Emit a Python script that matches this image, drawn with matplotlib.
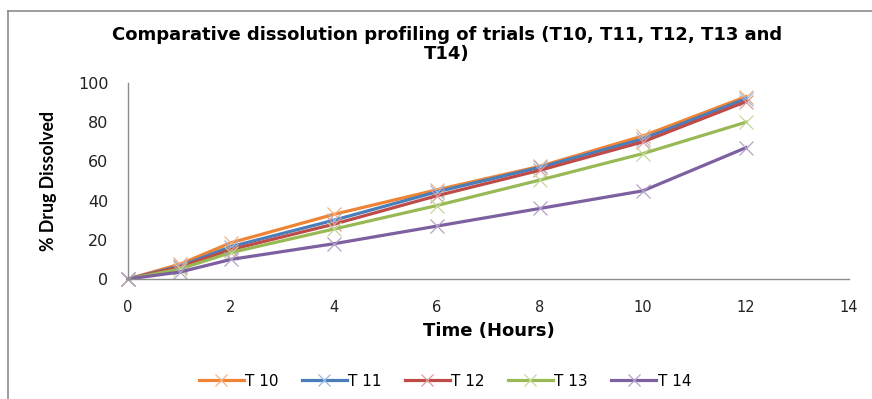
import matplotlib
matplotlib.use("Agg")
import matplotlib.pyplot as plt
from matplotlib.lines import Line2D

time_h = [0, 1, 2, 4, 6, 8, 10, 12]
series_names = ["T 10", "T 11", "T 12", "T 13", "T 14"]
t10 = [0, 7.5, 18.5, 33, 45.5, 57.5, 73, 93]
t11 = [0, 6.5, 16.5, 30, 44.5, 57, 71.5, 92]
t12 = [0, 6, 15, 28, 42.5, 55.5, 70, 90.5]
t13 = [0, 5, 13.5, 25.5, 37.5, 50.5, 64, 80]
t14 = [0, 3.5, 10, 18, 27, 36, 45, 67]
series_values = [t10, t11, t12, t13, t14]
colors = ["#EE8434", "#4A7EBB", "#BE4B48", "#98B954", "#7D60A0"]
marker_colors = ["#F4B183", "#9DB9DE", "#DC9C9A", "#C4D79B", "#B3A2C7"]
y_ticks = [0, 20, 40, 60, 80, 100]
x_ticks = [0, 2, 4, 6, 8, 10, 12, 14]

W, H = 872, 399
fig = plt.figure(figsize=(W / 100, H / 100), dpi=100)
ax = fig.add_axes([128 / W, 1 - 279 / H, (849 - 128) / W, (279 - 83) / H])

for name, vals, c, mc in zip(series_names, series_values, colors, marker_colors):
    ax.plot(time_h, vals, color=c, lw=2.3, marker="x", markersize=10,
            markeredgecolor=mc, markeredgewidth=0.9, label=name,
            solid_joinstyle="round", clip_on=False)

ax.set_xlim(0, 14)
ax.set_ylim(0, 100)
ax.set_xticks(x_ticks)
ax.set_yticks(y_ticks)
ax.set_xticklabels([str(v) for v in x_ticks], fontfamily="DejaVu Sans", fontsize=10.5, color="#222222")
ax.set_yticklabels([str(v) for v in y_ticks], fontfamily="DejaVu Sans", fontsize=11.5, color="#222222")
ax.tick_params(axis="both", length=0)
ax.tick_params(axis="x", pad=15)
ax.tick_params(axis="y", pad=14)
for s in ["top", "right"]:
    ax.spines[s].set_visible(False)
for s in ["left", "bottom"]:
    ax.spines[s].set_color("#8C8C8C")
    ax.spines[s].set_linewidth(1.0)

ax.set_xlabel("Time (Hours)", fontfamily="DejaVu Sans", fontweight="bold", fontsize=13, labelpad=5)
ax.set_ylabel("% Drug Dissolved", fontfamily="Lato", fontweight="bold", fontsize=12.8, labelpad=15)

fig.text(447 / W, 1 - 35 / H, "Comparative dissolution profiling of trials (T10, T11, T12, T13 and",
         ha="center", va="center", fontfamily="DejaVu Sans", fontweight="bold", fontsize=13)
fig.text(447 / W, 1 - 54 / H, "T14)", ha="center", va="center",
         fontfamily="DejaVu Sans", fontweight="bold", fontsize=13)

leg = fig.legend(loc="center", bbox_to_anchor=(445 / W, 1 - 381 / H), ncol=5, frameon=False,
                 prop={"family": "DejaVu Sans", "size": 11}, handlelength=2.95, handletextpad=0.1,
                 columnspacing=1.5, markerscale=0.9)

fig.add_artist(Line2D([8 / W, 8 / W], [0, 1 - 11 / H], transform=fig.transFigure, color="#8C8C8C", lw=1.2))
fig.add_artist(Line2D([8 / W, 1], [1 - 11 / H, 1 - 11 / H], transform=fig.transFigure, color="#8C8C8C", lw=1.2))

fig.savefig("out.png", dpi=100)
